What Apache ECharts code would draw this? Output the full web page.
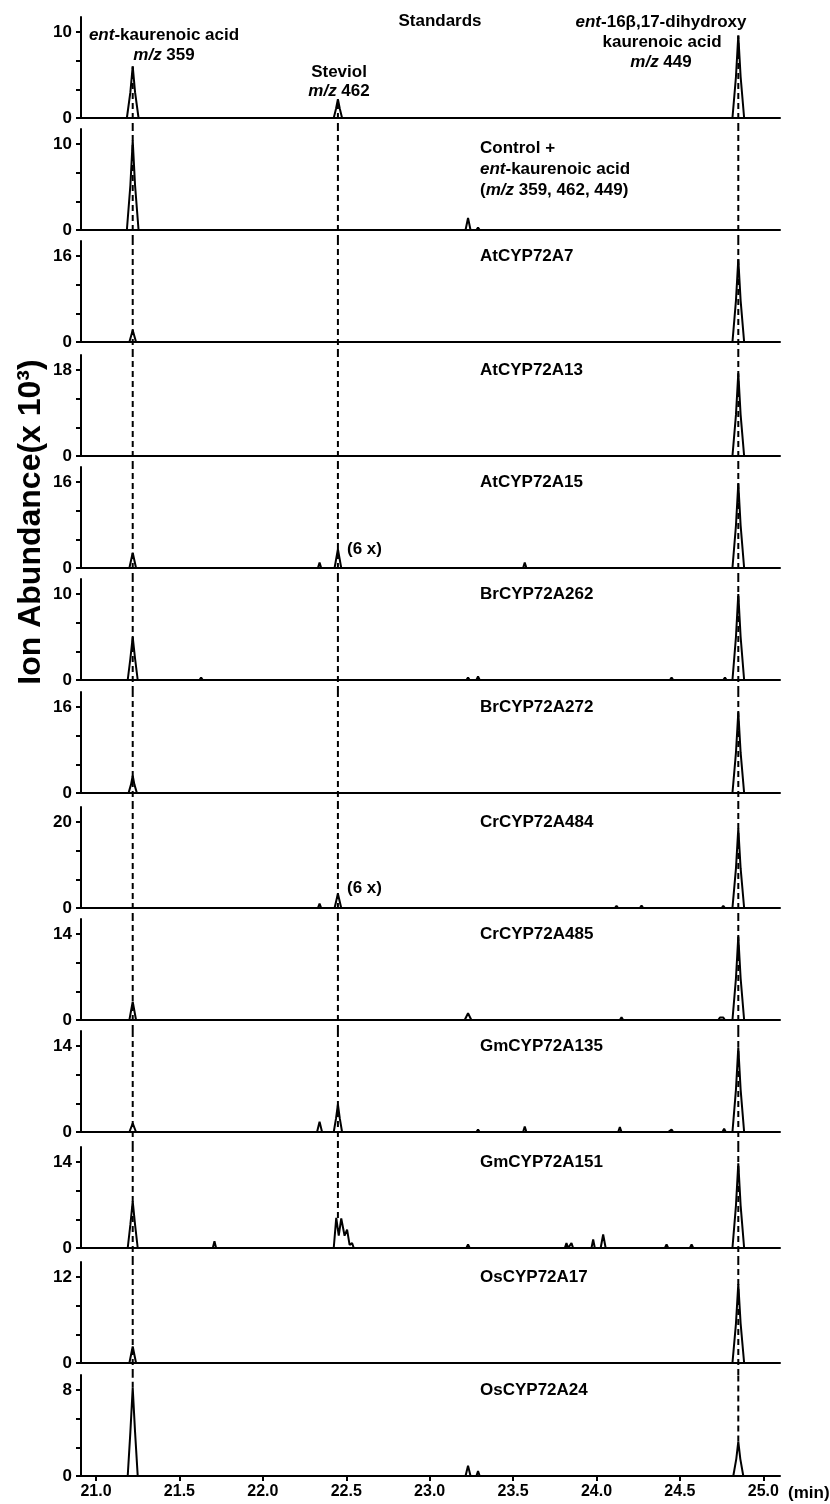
<!DOCTYPE html>
<html>
<head>
<meta charset="utf-8">
<script src="https://cdn.jsdelivr.net/npm/echarts@6/dist/echarts.min.js"></script>
<style>
html, body { margin: 0; background: #fff; }
#chart { width: 830px; height: 1504px; }
</style>
</head>
<body>
<div id="chart"></div>
<script>
// retention times (min) of the three marked products
const rtKA = 21.22, rtSteviol = 22.45, rtDiOH = 24.85;

const sampleNames = ['Standards', 'Control', 'AtCYP72A7', 'AtCYP72A13', 'AtCYP72A15', 'BrCYP72A262',
  'BrCYP72A272', 'CrCYP72A484', 'CrCYP72A485', 'GmCYP72A135', 'GmCYP72A151', 'OsCYP72A17', 'OsCYP72A24'];
// top labelled tick of every panel (x 10^3)
const yTopLabels = [10, 10, 16, 18, 16, 10, 16, 20, 14, 14, 14, 12, 8];
const xTickLabels = [21.0, 21.5, 22.0, 22.5, 23.0, 23.5, 24.0, 24.5, 25.0];

// traces: [time (min), ion abundance (x 10^3)]
const standards = [[20.95,0],[21.185,0],[21.206,3.0],[21.22,6.0],[21.234,3.0],[21.255,0],
  [22.425,0],[22.439,1.1],[22.45,2.2],[22.461,1.1],[22.475,0],
  [24.815,0],[24.836,4.8],[24.85,9.6],[24.864,4.8],[24.885,0],[25.0,0]];
const control = [[20.95,0],[21.185,0],[21.206,5.2],[21.22,10.4],[21.234,5.2],[21.255,0],
  [23.215,0],[23.23,1.4],[23.245,0],[23.28,0],[23.29,0.3],[23.30,0],[25.0,0]];
const atA7 = [[20.98,0],[21.2,0],[21.22,2.2],[21.24,0],[22.33,0],[22.34,0.15],[22.35,0],
  [23.23,0],[23.24,0.25],[23.25,0],[23.98,0],[23.99,0.2],[24.0,0],[24.44,0],[24.45,0.3],[24.46,0],
  [24.76,0],[24.77,0.3],[24.78,0],[24.815,0],[24.836,7.7],[24.85,15.4],[24.864,7.7],[24.885,0],[24.99,0]];
const atA13 = [[20.98,0],[21.21,0],[21.22,0.35],[21.23,0],[23.23,0],[23.24,0.2],[23.25,0],
  [23.98,0],[23.99,0.2],[24.0,0],[24.44,0],[24.45,0.35],[24.46,0],[24.76,0],[24.77,0.35],[24.78,0],
  [24.815,0],[24.836,8.6],[24.85,17.3],[24.864,8.6],[24.885,0],[24.99,0]];
const atA15 = [[20.98,0],[21.2,0],[21.22,2.85],[21.24,0],[21.62,0],[21.63,0.15],[21.64,0],
  [22.33,0],[22.34,1.0],[22.35,0],[22.43,0],[22.45,3.5],[22.47,0],[23.22,0],[23.23,0.35],[23.24,0],
  [23.28,0],[23.29,0.35],[23.30,0],[23.56,0],[23.57,1.0],[23.58,0],[23.98,0],[23.99,0.2],[24.0,0],
  [24.44,0],[24.45,0.35],[24.46,0],[24.76,0],[24.77,0.35],[24.78,0],
  [24.815,0],[24.836,7.9],[24.85,15.7],[24.864,7.9],[24.885,0],[24.99,0]];
const brA262 = [[20.98,0],[21.19,0],[21.206,2.5],[21.22,5.0],[21.234,2.5],[21.25,0],
  [21.62,0],[21.63,0.3],[21.64,0],[23.22,0],[23.23,0.3],[23.24,0],[23.28,0],[23.29,0.4],[23.30,0],
  [23.77,0],[23.78,0.2],[23.79,0],[23.98,0],[23.99,0.2],[24.0,0],[24.44,0],[24.45,0.3],[24.46,0],
  [24.76,0],[24.77,0.3],[24.78,0],[24.815,0],[24.836,5.0],[24.85,10.0],[24.864,5.0],[24.885,0],[24.99,0]];
const brA272 = [[20.98,0],[21.195,0],[21.21,1.6],[21.22,3.2],[21.23,1.6],[21.245,0],
  [23.23,0],[23.24,0.2],[23.25,0],[24.44,0],[24.45,0.2],[24.46,0],
  [24.815,0],[24.836,7.5],[24.85,15.0],[24.864,7.5],[24.885,0],[24.99,0]];
const crA484 = [[20.98,0],[22.33,0],[22.34,1.0],[22.35,0],[22.43,0],[22.45,3.3],[22.47,0],
  [23.28,0],[23.29,0.3],[23.30,0],[24.11,0],[24.12,0.5],[24.13,0],[24.26,0],[24.27,0.6],[24.28,0],
  [24.42,0],[24.43,0.3],[24.44,0],[24.75,0],[24.76,0.5],[24.77,0],
  [24.815,0],[24.836,9.2],[24.85,18.5],[24.864,9.2],[24.885,0],[24.99,0]];
const crA485 = [[20.95,0],[20.99,0],[21.0,0.3],[21.01,0],[21.13,0],[21.14,0.3],[21.15,0],[21.2,0],[21.22,3.0],[21.24,0],
  [21.46,0],[21.47,0.3],[21.48,0],[21.56,0],[21.57,0.3],[21.58,0],[21.94,0],[21.95,0.25],[21.96,0],
  [22.12,0],[22.13,0.25],[22.14,0],[22.52,0],[22.53,0.3],[22.54,0],[22.67,0],[22.68,0.3],[22.69,0],
  [22.9,0],[22.91,0.25],[22.92,0],[22.99,0],[23.0,0.3],[23.01,0],[23.21,0],[23.23,1.1],[23.25,0],
  [23.63,0],[23.64,0.25],[23.65,0],[23.76,0],[23.77,0.3],[23.78,0],[23.98,0],[23.99,0.3],[24.0,0],
  [24.08,0],[24.09,0.3],[24.1,0],[24.14,0],[24.15,0.45],[24.16,0],[24.34,0],[24.35,0.3],[24.36,0],
  [24.39,0],[24.40,0.3],[24.41,0],[24.45,0],[24.46,0.3],[24.47,0],[24.73,0],[24.74,0.4],[24.75,0.1],[24.76,0.4],[24.77,0],
  [24.815,0],[24.836,6.8],[24.85,13.6],[24.864,6.8],[24.885,0],[24.98,0]];
const gmA135 = [[20.98,0],[21.2,0],[21.22,1.4],[21.24,0],[21.62,0],[21.63,0.15],[21.64,0],
  [22.325,0],[22.34,1.65],[22.355,0],[22.425,0],[22.439,2.25],[22.45,4.5],[22.461,2.25],[22.475,0],
  [23.22,0],[23.23,0.2],[23.24,0],[23.28,0],[23.29,0.4],[23.30,0],[23.56,0],[23.57,0.9],[23.58,0],
  [23.77,0],[23.78,0.15],[23.79,0],[24.02,0],[24.03,0.15],[24.04,0],[24.13,0],[24.14,0.8],[24.15,0],
  [24.34,0],[24.35,0.15],[24.36,0],[24.41,0],[24.42,0.3],[24.43,0],[24.44,0],[24.45,0.4],[24.46,0],
  [24.72,0],[24.73,0.2],[24.74,0],[24.755,0],[24.765,0.55],[24.775,0],
  [24.815,0],[24.836,6.9],[24.85,13.8],[24.864,6.9],[24.885,0],[24.99,0]];
const gmA151 = [[21.05,0],[21.19,0],[21.206,3.8],[21.22,7.6],[21.234,3.8],[21.25,0],
  [21.70,0],[21.71,1.1],[21.72,0],[22.425,0],[22.44,4.9],[22.455,2.0],[22.47,4.8],[22.49,2.0],
  [22.505,3.0],[22.52,0.5],[22.535,0.8],[22.545,0],[23.22,0],[23.23,0.6],[23.24,0],
  [23.81,0],[23.82,0.8],[23.83,0],[23.84,0],[23.85,0.8],[23.86,0],[23.97,0],[23.98,1.4],[23.99,0],
  [24.025,0],[24.04,2.2],[24.055,0],[24.41,0],[24.42,0.6],[24.43,0],[24.56,0],[24.57,0.6],[24.58,0],
  [24.815,0],[24.836,6.9],[24.85,13.8],[24.864,6.9],[24.885,0],[24.99,0]];
const osA17 = [[20.98,0],[21.2,0],[21.22,2.3],[21.24,0],[23.22,0],[23.23,0.2],[23.24,0],
  [23.28,0],[23.29,0.2],[23.30,0],[24.75,0],[24.76,0.2],[24.77,0],
  [24.815,0],[24.836,5.5],[24.85,11.0],[24.864,5.5],[24.885,0],[24.99,0]];
const osA24 = [[20.98,0],[21.19,0],[21.206,4.1],[21.22,8.2],[21.234,4.1],[21.25,0],
  [22.325,0],[22.33,0.1],[22.335,0],[23.215,0],[23.23,0.95],[23.245,0],[23.28,0],[23.29,0.45],[23.30,0],
  [24.82,0],[24.838,1.6],[24.85,3.2],[24.862,1.6],[24.88,0],[24.99,0]];

const traces = [standards, control, atA7, atA13, atA15, brA262, brA272, crA484, crA485,
  gmA135, gmA151, osA17, osA24];

// dashed guides: retention time, first and last panel it joins
const guides = [
  { rt: rtKA, first: 0, last: 12 },
  { rt: rtSteviol, first: 0, last: 10 },
  { rt: rtDiOH, first: 0, last: 12 }
];

// layout
const zeroY = [118, 230, 342, 456, 568, 680, 793, 908, 1020, 1132, 1248, 1363, 1476];
const plotH = 101;
const labelRise = 86;
const plotLeft = 81, plotWidth = 699;
const fontFam = '"Liberation Sans", Arial, sans-serif';

const chart = echarts.init(document.getElementById('chart'));

const grids = [], xAxes = [], yAxes = [], series = [];
const yMaxOf = i => yTopLabels[i] * plotH / labelRise;

traces.forEach((trace, i) => {
  const last = i === traces.length - 1;
  const top = yTopLabels[i];
  grids.push({ left: plotLeft, width: plotWidth, top: zeroY[i] - plotH, height: plotH });
  xAxes.push({
    gridIndex: i, type: 'value', min: 20.91, max: 25.1,
    axisLine: { lineStyle: { color: '#000', width: 2 } },
    axisTick: { show: last, customValues: xTickLabels, length: 5, lineStyle: { color: '#000', width: 2 } },
    axisLabel: {
      show: last, customValues: xTickLabels, margin: 8,
      formatter: v => v.toFixed(1),
      color: '#000', fontSize: 16, fontWeight: 'bold', fontFamily: fontFam
    },
    splitLine: { show: false }
  });
  yAxes.push({
    gridIndex: i, type: 'value', min: 0, max: yMaxOf(i),
    axisLine: { show: true, lineStyle: { color: '#000', width: 2 } },
    axisTick: { show: true, customValues: [0, top / 3, top * 2 / 3, top], length: 5,
      lineStyle: { color: '#000', width: 2 } },
    axisLabel: { customValues: [0, top], margin: 9, color: '#000', fontSize: 17,
      fontWeight: 'bold', fontFamily: fontFam },
    splitLine: { show: false }
  });
  series.push({
    type: 'line', xAxisIndex: i, yAxisIndex: i, data: trace,
    showSymbol: false, lineStyle: { color: '#000', width: 2 }, z: 2
  });
});

function peakAt(trace, rt) {
  return Math.max(...trace.filter(p => Math.abs(p[0] - rt) < 0.02).map(p => p[1]));
}

guides.forEach(g => {
  for (let i = g.first; i <= g.last; i++) {
    const yMax = yMaxOf(i);
    const gapPx = i < traces.length - 1 ? zeroY[i + 1] - plotH - zeroY[i] : 0;
    const hi = i === g.first ? peakAt(traces[i], g.rt) : yMax;
    const lo = i === g.last ? peakAt(traces[i], g.rt) : -gapPx / plotH * yMax;
    series.push({
      type: 'line', xAxisIndex: i, yAxisIndex: i, clip: false,
      data: [[g.rt, lo], [g.rt, hi]], showSymbol: false, silent: true,
      lineStyle: { color: '#000', width: 2, type: [6, 4] }, z: 3
    });
  }
});

const rich = { i: { fontStyle: 'italic', fontWeight: 'bold', fontSize: 17, fontFamily: fontFam, fill: '#000' } };
function label(x, y, text, align) {
  return {
    type: 'text', x: x, y: y, silent: true,
    style: {
      text: text, rich: rich, fill: '#000', fontSize: 17, fontWeight: 'bold', fontFamily: fontFam,
      align: align || 'center', verticalAlign: 'middle'
    }
  };
}

const texts = [
  label(440, 21, 'Standards'),
  label(164, 35, '{i|ent}-kaurenoic acid'),
  label(164, 55, '{i|m/z} 359'),
  label(339, 72, 'Steviol'),
  label(339, 91, '{i|m/z} 462'),
  label(661, 22, '{i|ent}-16β,17-dihydroxy'),
  label(662, 42, 'kaurenoic acid'),
  label(661, 62, '{i|m/z} 449'),
  label(480, 148, 'Control +', 'left'),
  label(480, 169, '{i|ent}-kaurenoic acid', 'left'),
  label(480, 190, '({i|m/z} 359, 462, 449)', 'left'),
  label(347, zeroY[4] - 19, '(6 x)', 'left'),
  label(347, zeroY[7] - 20, '(6 x)', 'left'),
  label(788, 1493, '(min)', 'left')
];
sampleNames.slice(2).forEach((name, k) => {
  texts.push(label(480, zeroY[k + 2] - labelRise, name, 'left'));
});
texts.push({
  type: 'text', x: 31, y: 522, rotation: Math.PI / 2, silent: true,
  style: {
    text: 'Ion Abundance(x 10³)', fill: '#000', fontSize: 32, fontWeight: 'bold', fontFamily: fontFam,
    align: 'center', verticalAlign: 'middle'
  }
});

chart.setOption({
  animation: false,
  backgroundColor: '#fff',
  grid: grids,
  xAxis: xAxes,
  yAxis: yAxes,
  series: series,
  graphic: texts
});
</script>
</body>
</html>
